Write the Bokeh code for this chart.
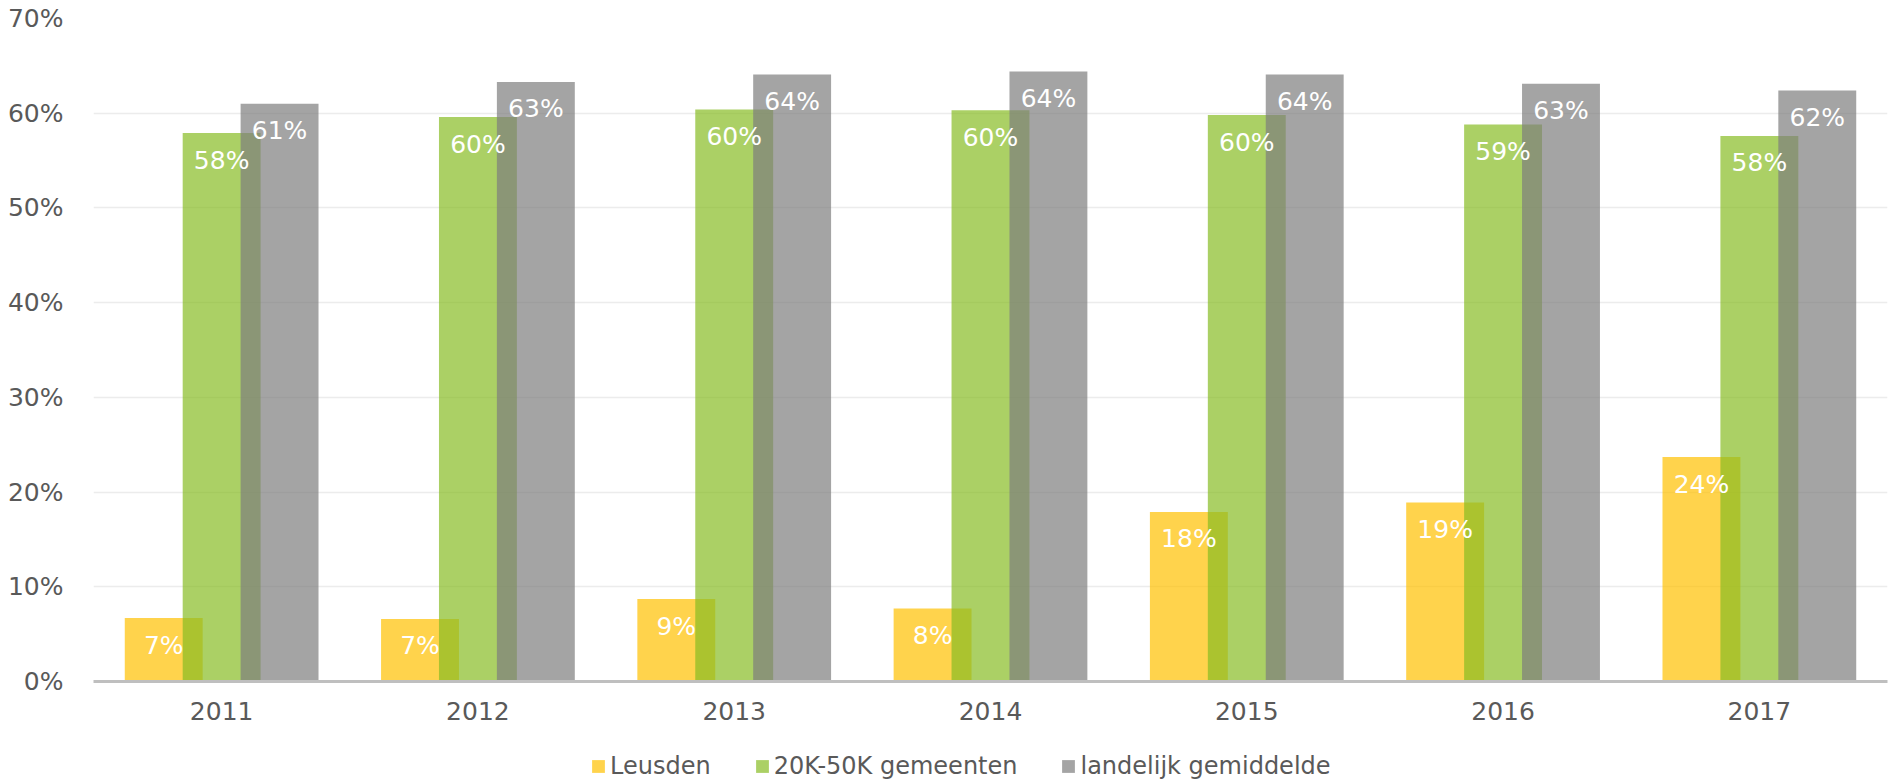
from bokeh.plotting import figure
from bokeh.layouts import column
from bokeh.models import ColumnDataSource, FactorRange, Range1d, PrintfTickFormatter, Legend, LegendItem, FixedTicker
from bokeh.transform import dodge
from bokeh.core.properties import value
from bokeh.embed import file_html
from bokeh.resources import INLINE

years = ["2011", "2012", "2013", "2014", "2015", "2016", "2017"]
leusden = [6.7, 6.6, 8.7, 7.7, 17.9, 18.9, 23.7]
gemeenten = [57.9, 59.6, 60.4, 60.3, 59.8, 58.8, 57.6]
landelijk = [61.0, 63.3, 64.1, 64.4, 64.1, 63.1, 62.4]
series_names = ["Leusden", "20K-50K gemeenten", "landelijk gemiddelde"]
y_ticks = [0, 10, 20, 30, 40, 50, 60, 70]

colors = ["#FFC000", "#88BC24", "#7E7E7E"]
FONT = "DejaVu Sans"

src = ColumnDataSource(dict(
    year=years,
    leusden=leusden, gemeenten=gemeenten, landelijk=landelijk,
    l_leusden=[f"{round(v)}%" for v in leusden],
    l_gemeenten=[f"{round(v)}%" for v in gemeenten],
    l_landelijk=[f"{round(v)}%" for v in landelijk],
))

p = figure(width=1888, height=740, x_range=FactorRange(*years), y_range=Range1d(0, 70),
           output_backend="svg", toolbar_location=None,
           min_border_left=93, min_border_right=1, min_border_top=18, min_border_bottom=59)
p.outline_line_color = None
p.x_range.range_padding = 0

offsets = [-0.226, 0.0, 0.226]
cols = ["leusden", "gemeenten", "landelijk"]
for col, off, c in zip(cols, offsets, colors):
    p.vbar(x=dodge("year", off, range=p.x_range), top=col, width=0.304, source=src,
           fill_color=c, fill_alpha=0.7, line_color=None)

for col, off in zip(cols, offsets):
    p.text(x=dodge("year", off, range=p.x_range), y=col, text="l_" + col, source=src,
           text_color="white", text_font=value(FONT), text_font_size="25px",
           text_align="center", text_baseline="middle", y_offset=27)

# axes
p.yaxis.ticker = FixedTicker(ticks=y_ticks)
p.yaxis.formatter = PrintfTickFormatter(format="%d%%")
p.yaxis.axis_line_color = None
p.yaxis.major_tick_line_color = None
p.yaxis.minor_tick_line_color = None
p.yaxis.major_label_standoff = 24
p.yaxis.major_label_text_font = FONT
p.yaxis.major_label_text_font_size = "25px"
p.yaxis.major_label_text_color = "#595959"

p.xaxis.axis_line_color = "#BFBFBF"
p.xaxis.axis_line_width = 3
p.xaxis.major_tick_line_color = None
p.xaxis.minor_tick_line_color = None
p.xaxis.major_label_standoff = 14
p.xaxis.major_label_text_font = FONT
p.xaxis.major_label_text_font_size = "25px"
p.xaxis.major_label_text_color = "#595959"

p.xgrid.grid_line_color = None
p.ygrid.grid_line_color = "#ECECEC"
p.ygrid.grid_line_width = 1.5

# legend strip below the chart
lg = figure(width=1888, height=40, x_range=Range1d(0, 1), y_range=Range1d(0, 1),
            output_backend="svg", toolbar_location=None, x_axis_type=None, y_axis_type=None,
            min_border_left=93, min_border_right=1, min_border_top=0, min_border_bottom=0)
lg.outline_line_color = None
lg.xgrid.visible = False
lg.ygrid.visible = False
dummies = [lg.vbar(x=[-10], top=[-10], width=0.1, fill_color=c, fill_alpha=0.7, line_color=None)
           for c in colors]
legend = Legend(items=[LegendItem(label=n, renderers=[r]) for n, r in zip(series_names, dummies)],
                orientation="horizontal", location=(497, 0),
                glyph_width=16, glyph_height=16, label_standoff=4, spacing=43,
                padding=0, margin=0, border_line_color=None, background_fill_alpha=0,
                label_text_font=FONT, label_text_font_size="24px", label_text_color="#595959")
lg.add_layout(legend, "center")

layout = column(p, lg, spacing=0)
open("out.html", "w").write(file_html(layout, INLINE))
